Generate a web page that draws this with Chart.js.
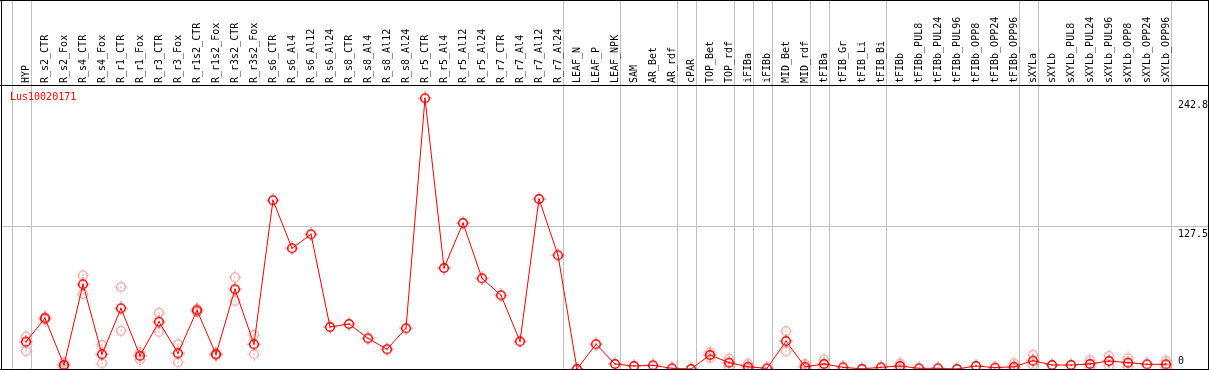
<!DOCTYPE html>
<html><head><meta charset="utf-8">
<script src="https://cdn.jsdelivr.net/npm/chart.js@4.4.1/dist/chart.umd.min.js"></script>
<style>html,body{margin:0;padding:0;background:#fff;overflow:hidden}#wrap{width:1209px;height:370px;position:relative}canvas{display:block}</style>
</head><body><div id="wrap"><canvas id="c" width="1209" height="370"></canvas></div>
<script>
const geneName = 'Lus10020171';
const categories = ['HYP','R_s2_CTR','R_s2_Fox','R_s4_CTR','R_s4_Fox','R_r1_CTR','R_r1_Fox','R_r3_CTR','R_r3_Fox','R_r1s2_CTR','R_r1s2_Fox','R_r3s2_CTR','R_r3s2_Fox','R_s6_CTR','R_s6_Al4','R_s6_Al12','R_s6_Al24','R_s8_CTR','R_s8_Al4','R_s8_Al12','R_s8_Al24','R_r5_CTR','R_r5_Al4','R_r5_Al12','R_r5_Al24','R_r7_CTR','R_r7_Al4','R_r7_Al12','R_r7_Al24','LEAF_N','LEAF_P','LEAF_NPK','SAM','AR_Bet','AR_rdf','cPAR','TOP_Bet','TOP_rdf','iFIBa','iFIBb','MID_Bet','MID_rdf','tFIBa','tFIB_Gr','tFIB_Li','tFIB_Bi','tFIBb','tFIBb_PUL8','tFIBb_PUL24','tFIBb_PUL96','tFIBb_OPP8','tFIBb_OPP24','tFIBb_OPP96','sXYLa','sXYLb','sXYLb_PUL8','sXYLb_PUL24','sXYLb_PUL96','sXYLb_OPP8','sXYLb_OPP24','sXYLb_OPP96'];
const meanValues = [24.5,45.5,3.6,76,13.2,54.4,11.9,42.4,14.1,52.6,13.2,71.5,22.2,151.3,108.3,120.8,37.7,40.4,27.5,17.7,36.5,242.8,90.6,130.9,81.3,66.1,24.8,152.5,102,0,22.2,4.5,2.7,3.3,0.6,0,12.6,5.7,2,0.6,25,2,4.5,1.5,0.1,1.5,2.7,0.6,0.6,0,2.7,1.2,2,7.5,3.6,3.6,4.5,7.2,5.7,4.2,4.2];
const rep1Values = [29,46.5,6,84,21.5,73.5,15,50.5,22.2,54,14,82.2,30.5,null,null,null,null,null,null,null,null,null,null,null,null,null,null,null,null,null,null,null,null,null,null,null,15,9.3,4.8,null,33.8,4.5,8.5,null,null,null,5,null,null,null,null,null,5,12.8,null,null,7.8,11.8,9.5,null,7.5];
const rep2Values = [16.1,44.5,1.2,67.3,5.1,34.3,8.3,33.5,6,51,12.4,61.3,13.2,null,null,null,null,null,null,null,null,null,null,null,null,null,null,null,null,null,null,null,null,null,null,null,10,2.5,0,null,15.9,0,0.5,null,null,null,0.4,null,null,null,null,null,0,3.6,null,null,1.5,3,2,null,1];
const yTickValues = [0, 127.5, 242.8];
const yTickLabels = ['0', '127.5', '242.8'];
const groupEnds = [-1, 0, 28, 31, 34, 35, 37, 38, 39, 41, 42, 45, 52, 53, 60];

const FONT = '"DejaVu Sans Mono", "Liberation Mono", monospace';

function marker(color, lw) {
  const c = document.createElement('canvas');
  c.width = 14; c.height = 14;
  const g = c.getContext('2d');
  g.strokeStyle = color; g.fillStyle = color; g.lineWidth = lw;
  g.beginPath(); g.arc(7, 7, 4.3, 0, Math.PI * 2); g.stroke();
  g.fillRect(6.5, 0.5, 1, 1.2); g.fillRect(6.5, 12.3, 1, 1.2);
  g.fillRect(0.5, 6.5, 1.2, 1); g.fillRect(12.3, 6.5, 1.2, 1);
  g.fillRect(6.5, 6, 1, 2);
  return c;
}
const meanMarker = marker('#ee0000', 1.5);
const repMarker = marker('#f0a0a0', 1.3);

const toPts = arr => arr.map((v, i) => ({x: i, y: v}));

const decor = {
  id: 'decor',
  beforeDraw(chart) {
    const {ctx, chartArea} = chart;
    const x = chart.scales.x;
    ctx.save();
    ctx.fillStyle = '#ffffff';
    ctx.fillRect(0, 0, chart.width, chart.height);
    ctx.fillStyle = '#c0c0c0';
    groupEnds.forEach(i => {
      const px = Math.round(x.getPixelForValue(i + 0.24));
      ctx.fillRect(px, 0, 1, chartArea.bottom);
    });
    ctx.restore();
  },
  afterDraw(chart) {
    const {ctx} = chart;
    ctx.save();
    ctx.fillStyle = '#000000';
    ctx.fillRect(0, 0, 1209, 1);
    ctx.fillRect(1, 0, 1, 370);
    ctx.fillRect(1208, 0, 1, 370);
    ctx.fillRect(0, 369, 1209, 1);
    ctx.fillRect(0, 85, 1209, 1);
    ctx.fillStyle = '#ff0000';
    ctx.font = '10px ' + FONT;
    ctx.textBaseline = 'middle';
    ctx.textAlign = 'left';
    ctx.fillText(geneName, 10, 97);
    ctx.restore();
  }
};

new Chart(document.getElementById('c'), {
  type: 'line',
  data: {
    datasets: [
      {
        label: 'mean', data: toPts(meanValues), order: 1,
        borderColor: '#ff0000', borderWidth: 1, tension: 0,
        pointStyle: meanMarker, pointRadius: 5, pointHoverRadius: 5,
        fill: false
      },
      {
        label: 'rep1', data: toPts(rep1Values), order: 2, showLine: false,
        pointStyle: repMarker, pointRadius: 5, pointHoverRadius: 5
      },
      {
        label: 'rep2', data: toPts(rep2Values), order: 3, showLine: false,
        pointStyle: repMarker, pointRadius: 5, pointHoverRadius: 5
      }
    ]
  },
  options: {
    responsive: false,
    devicePixelRatio: 1,
    animation: false,
    events: [],
    layout: {autoPadding: false, padding: {left: 2, right: 1, top: 1, bottom: 1}},
    plugins: {legend: {display: false}, tooltip: {enabled: false}},
    scales: {
      x: {
        type: 'linear', position: 'top',
        min: -1.263, max: 62.21,
        afterBuildTicks: s => { s.ticks = categories.map((_, i) => ({value: i})); },
        afterFit: s => { s.height = 85; s.paddingLeft = 0; s.paddingRight = 0; },
        grid: {display: false, drawTicks: false},
        border: {display: false},
        ticks: {
          autoSkip: false, minRotation: 90, maxRotation: 90, padding: 3, labelOffset: 12,
          color: '#000', font: {family: FONT, size: 10},
          callback: v => categories[v]
        }
      },
      y: {
        type: 'linear', position: 'right',
        min: 0, max: 253.8,
        afterBuildTicks: s => { s.ticks = yTickValues.map(v => ({value: v})); },
        afterFit: s => { s.width = 0; s.paddingTop = 0; s.paddingBottom = 0; },
        grid: {
          drawTicks: false,
          color: c => (c.tick && c.tick.value === 127.5) ? '#c0c0c0' : 'rgba(0,0,0,0)'
        },
        border: {display: false},
        ticks: {
          mirror: true, crossAlign: 'far', padding: 0,
          color: '#000', font: {family: FONT, size: 10, lineHeight: '15px'},
          callback: v => {
            const i = yTickValues.indexOf(v);
            const t = yTickLabels[i];
            return v === 0 ? [t, ''] : ['', t];
          }
        }
      }
    }
  },
  plugins: [decor]
});
</script>
</body></html>
